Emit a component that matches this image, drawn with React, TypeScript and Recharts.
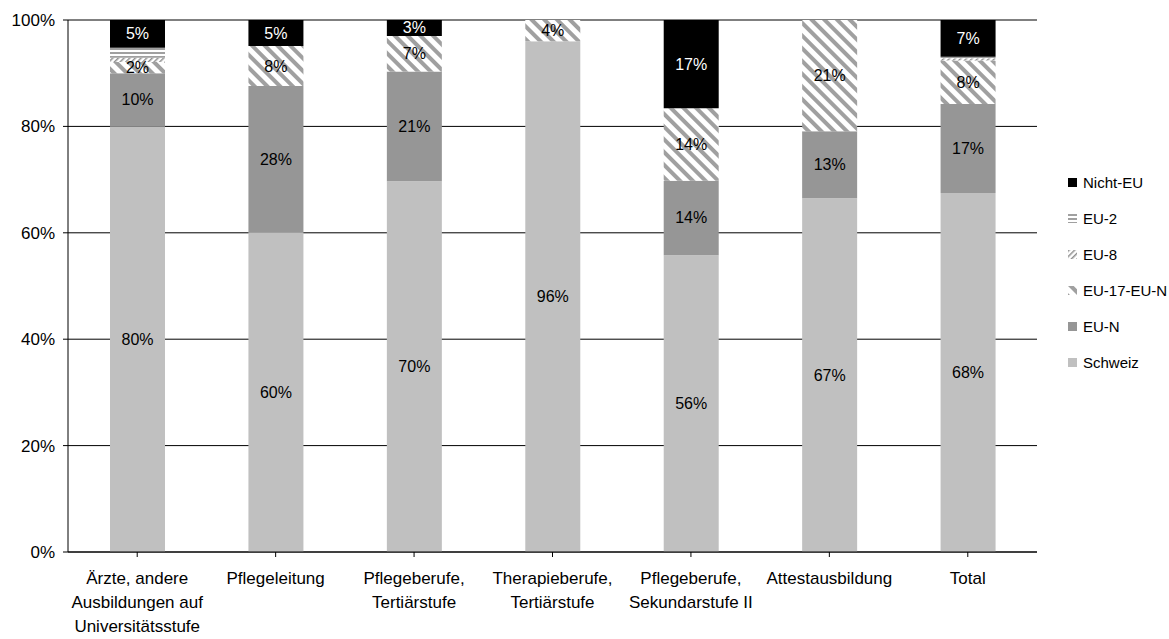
import { BarChart, Bar, XAxis, YAxis, CartesianGrid, LabelList } from "recharts";

document.body.style.margin = "0";
document.body.style.overflow = "hidden";

const categories = [
  "Ärzte, andere Ausbildungen auf Universitätsstufe",
  "Pflegeleitung",
  "Pflegeberufe, Tertiärstufe",
  "Therapieberufe, Tertiärstufe",
  "Pflegeberufe, Sekundarstufe II",
  "Attestausbildung",
  "Total",
];

const tickLines: string[][] = [
  ["Ärzte, andere", "Ausbildungen auf", "Universitätsstufe"],
  ["Pflegeleitung"],
  ["Pflegeberufe,", "Tertiärstufe"],
  ["Therapieberufe,", "Tertiärstufe"],
  ["Pflegeberufe,", "Sekundarstufe II"],
  ["Attestausbildung"],
  ["Total"],
];

const schweiz = [80, 60.1, 69.7, 96, 55.8, 66.5, 67.5];
const euN = [10, 27.5, 20.6, 0, 14, 12.6, 16.7];
const eu17 = [2.1, 7.5, 6.7, 4, 13.6, 20.9, 8.2];
const eu8 = [0.8, 0, 0, 0, 0, 0, 0.4];
const eu2 = [1.9, 0, 0, 0, 0, 0, 0.3];
const nichtEu = [5.2, 4.9, 3.0, 0, 16.6, 0, 6.9];

const yTicks = [0, 20, 40, 60, 80, 100];

const data = categories.map((name, i) => ({
  name,
  schweiz: schweiz[i],
  euN: euN[i],
  eu17: eu17[i],
  eu8: eu8[i],
  eu2: eu2[i],
  nichtEu: nichtEu[i],
}));

const series = [
  { key: "schweiz", label: "Schweiz", fill: "#c0c0c0", text: "#000" },
  { key: "euN", label: "EU-N", fill: "#969696", text: "#000" },
  { key: "eu17", label: "EU-17-EU-N", fill: "url(#hatchBack)", text: "#000" },
  { key: "eu8", label: "EU-8", fill: "url(#hatchFwd)", text: "#000" },
  { key: "eu2", label: "EU-2", fill: "url(#hatchHoriz)", text: "#000" },
  { key: "nichtEu", label: "Nicht-EU", fill: "#000000", text: "#fff" },
];

const FONT = "'Liberation Sans', Arial, sans-serif";

const CategoryTick = (props: any) => {
  const { x, y, payload } = props;
  const lines = tickLines[payload.index] || [payload.value];
  return (
    <text x={x} y={y + 25} textAnchor="middle" fontSize={17} fontFamily={FONT} fill="#000">
      {lines.map((l, i) => (
        <tspan key={i} x={x} dy={i === 0 ? 0 : 24}>
          {l}
        </tspan>
      ))}
    </text>
  );
};

const makeLabel = (color: string) => (props: any) => {
  const { x, y, width, height, value } = props;
  if (value == null || value < 2) return null;
  return (
    <text
      x={x + width / 2}
      y={y + height / 2}
      textAnchor="middle"
      dominantBaseline="central"
      fontSize={16}
      fontFamily={FONT}
      fill={color}
    >
      {Math.round(value)}%
    </text>
  );
};

const Patterns = () => (
  <svg width={0} height={0} style={{ position: "absolute" }}>
    <defs>
      <pattern id="hatchBack" width={9} height={9} patternUnits="userSpaceOnUse" patternTransform="rotate(-45)">
        <rect width={9} height={9} fill="#fff" />
        <rect width={4} height={9} fill="#a0a0a0" />
      </pattern>
      <pattern id="hatchFwd" width={4} height={4} patternUnits="userSpaceOnUse" patternTransform="rotate(45)">
        <rect width={4} height={4} fill="#fff" />
        <rect width={1.5} height={4} fill="#909090" />
      </pattern>
      <pattern id="hatchHoriz" width={4} height={4} patternUnits="userSpaceOnUse">
        <rect width={4} height={4} fill="#fff" />
        <rect width={4} height={2} fill="#a0a0a0" />
      </pattern>
    </defs>
  </svg>
);

export default function App() {
  const legendItems = [...series].reverse();
  return (
    <div style={{ position: "relative", width: 1169, height: 639, fontFamily: FONT }}>
      <Patterns />
      <BarChart
        width={1169}
        height={639}
        data={data}
        margin={{ top: 20, right: 132, left: 0, bottom: 0 }}
        barCategoryGap="30%"
      >
        <CartesianGrid vertical={false} stroke="#000" strokeWidth={1} />
        <XAxis
          dataKey="name"
          height={87}
          tick={<CategoryTick />}
          interval={0}
          axisLine={{ stroke: "#000" }}
          tickLine={{ stroke: "#000" }}
          tickSize={5}
          scale="band"
        />
        <YAxis
          width={68}
          domain={[0, 100]}
          ticks={yTicks}
          tickFormatter={(v: number) => `${v}%`}
          tick={{ fontSize: 17, fontFamily: FONT, fill: "#000" }}
          axisLine={{ stroke: "#000" }}
          tickLine={{ stroke: "#000" }}
          tickSize={5}
          tickMargin={8}
          allowDataOverflow
        />
        {series.map((s) => (
          <Bar key={s.key} dataKey={s.key} stackId="a" fill={s.fill} barSize={55} isAnimationActive={false}>
            <LabelList dataKey={s.key} content={makeLabel(s.text)} />
          </Bar>
        ))}
      </BarChart>
      <div style={{ position: "absolute", left: 1068, top: 164 }}>
        {legendItems.map((s) => (
          <div
            key={s.key}
            style={{ height: 36, display: "flex", alignItems: "center", fontSize: 15, color: "#000", whiteSpace: "nowrap" }}
          >
            <svg width={9} height={9} style={{ marginRight: 6 }}>
              <rect width={9} height={9} fill={s.fill} />
            </svg>
            <span>{s.label}</span>
          </div>
        ))}
      </div>
    </div>
  );
}
